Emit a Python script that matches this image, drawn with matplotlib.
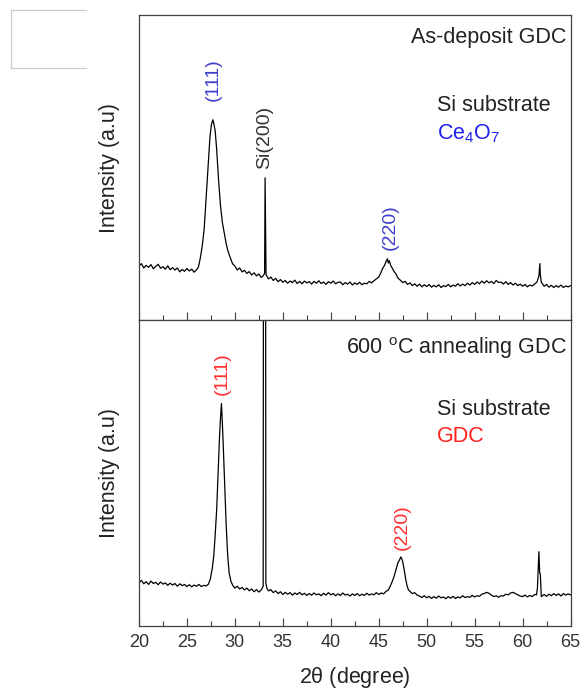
import numpy as np
import matplotlib
matplotlib.use("Agg")
import matplotlib.pyplot as plt
from matplotlib.lines import Line2D

plt.rcParams['font.family'] = ['Liberation Sans', 'DejaVu Sans']
plt.rcParams['mathtext.fontset'] = 'custom'
plt.rcParams['mathtext.rm'] = 'Liberation Sans'

# 2theta / intensity (arbitrary units)
tt_asdep = [20.0, 20.25, 20.5, 20.75, 21.0, 21.25, 21.5, 21.75, 22.0, 22.25, 22.5, 22.75,
            23.0, 23.25, 23.5, 23.75, 24.0, 24.25, 24.5, 24.75, 25.0, 25.25, 25.5, 25.75,
            26.0, 26.2, 26.4, 26.6, 26.8, 27.0, 27.2, 27.4, 27.55, 27.7, 27.8, 27.95,
            28.1, 28.3, 28.5, 28.7, 28.9, 29.1, 29.3, 29.5, 29.75, 30.0, 30.25, 30.5,
            30.75, 31.0, 31.25, 31.5, 31.75, 32.0, 32.25, 32.5, 32.75, 33.0, 33.1, 33.15,
            33.2, 33.25, 33.5, 33.75, 34.0, 34.25, 34.5, 34.75, 35.0, 35.25, 35.5, 35.75,
            36.0, 36.25, 36.5, 36.75, 37.0, 37.25, 37.5, 37.75, 38.0, 38.25, 38.5, 38.75,
            39.0, 39.25, 39.5, 39.75, 40.0, 40.25, 40.5, 40.75, 41.0, 41.25, 41.5, 41.75,
            42.0, 42.25, 42.5, 42.75, 43.0, 43.25, 43.5, 43.75, 44.0, 44.25, 44.5, 44.75,
            45.0, 45.2, 45.4, 45.6, 45.75, 45.9, 46.0, 46.1, 46.25, 46.4, 46.6, 46.8,
            47.0, 47.25, 47.5, 47.75, 48.0, 48.25, 48.5, 48.75, 49.0, 49.25, 49.5, 49.75,
            50.0, 50.25, 50.5, 50.75, 51.0, 51.25, 51.5, 51.75, 52.0, 52.25, 52.5, 52.75,
            53.0, 53.25, 53.5, 53.75, 54.0, 54.25, 54.5, 54.75, 55.0, 55.25, 55.5, 55.75,
            56.0, 56.25, 56.5, 56.75, 57.0, 57.25, 57.5, 57.75, 58.0, 58.25, 58.5, 58.75,
            59.0, 59.25, 59.5, 59.75, 60.0, 60.25, 60.5, 60.75, 61.0, 61.25, 61.5, 61.7,
            61.8, 61.85, 61.95, 62.25, 62.5, 62.75, 63.0, 63.25, 63.5, 63.75, 64.0, 64.25,
            64.5, 64.75, 65.0]
I_asdep = [17.8, 18.6, 17.2, 18.0, 17.4, 18.3, 16.9, 17.7, 18.4, 17.1, 17.6, 16.8,
           17.9, 16.6, 17.3, 16.5, 17.2, 15.9, 16.7, 16.1, 17.0, 16.2, 16.8, 15.8,
           16.6, 17.5, 20.5, 24.5, 30.0, 40.0, 50.5, 60.0, 64.0, 65.7, 64.5, 62.0,
           56.0, 46.0, 37.5, 32.0, 28.5, 25.0, 22.5, 20.8, 18.6, 17.8, 16.5, 17.2,
           15.9, 16.4, 15.4, 16.0, 14.9, 15.6, 14.6, 15.2, 14.1, 14.8, 15.5, 46.7,
           32.0, 15.0, 13.6, 14.2, 13.1, 13.8, 12.7, 13.4, 12.5, 13.1, 12.2, 12.9,
           12.4, 13.2, 12.1, 12.8, 12.0, 12.9, 12.3, 12.7, 11.9, 12.8, 12.2, 13.0,
           12.1, 12.6, 11.8, 12.7, 12.2, 12.9, 12.0, 12.5, 12.6, 11.7, 12.4, 11.9,
           12.6, 11.6, 12.3, 11.8, 12.5, 11.7, 12.2, 12.0, 12.8, 12.3, 13.0, 13.6,
           14.2, 15.5, 17.0, 18.0, 19.2, 20.2, 18.8, 19.6, 18.0, 17.2, 16.0, 15.2,
           13.9, 13.2, 12.4, 12.8, 11.8, 12.3, 11.4, 12.0, 11.2, 11.9, 11.0, 11.7,
           11.1, 11.8, 10.9, 11.5, 11.0, 11.7, 10.8, 11.4, 11.1, 11.8, 11.0, 11.6,
           11.2, 12.0, 11.3, 11.9, 11.4, 12.2, 11.6, 12.4, 11.8, 12.6, 12.0, 12.9,
           12.2, 13.0, 12.3, 12.8, 12.1, 13.1, 12.4, 12.6, 11.9, 12.7, 11.8, 12.4,
           11.6, 12.2, 11.4, 11.9, 11.2, 11.8, 11.0, 11.6, 11.3, 11.9, 12.6, 14.5,
           18.6, 15.0, 12.5, 11.2, 11.8, 10.9, 11.5, 10.8, 11.4, 10.9, 11.6, 10.8,
           11.3, 11.0, 11.4]

tt_anneal = [20.0, 20.25, 20.5, 20.75, 21.0, 21.25, 21.5, 21.75, 22.0, 22.25, 22.5, 22.75,
             23.0, 23.25, 23.5, 23.75, 24.0, 24.25, 24.5, 24.75, 25.0, 25.25, 25.5, 25.75,
             26.0, 26.25, 26.5, 26.75, 27.0, 27.25, 27.45, 27.65, 27.8, 27.95, 28.1, 28.25,
             28.4, 28.5, 28.6, 28.7, 28.8, 28.95, 29.1, 29.25, 29.4, 29.6, 29.8, 30.0,
             30.25, 30.5, 30.75, 31.0, 31.25, 31.5, 31.75, 32.0, 32.25, 32.5, 32.75, 32.95,
             32.98, 33.2, 33.23, 33.35, 33.5, 33.75, 34.0, 34.25, 34.5, 34.75, 35.0, 35.25,
             35.5, 35.75, 36.0, 36.25, 36.5, 36.75, 37.0, 37.25, 37.5, 37.75, 38.0, 38.25,
             38.5, 38.75, 39.0, 39.25, 39.5, 39.75, 40.0, 40.25, 40.5, 40.75, 41.0, 41.25,
             41.5, 41.75, 42.0, 42.25, 42.5, 42.75, 43.0, 43.25, 43.5, 43.75, 44.0, 44.25,
             44.5, 44.75, 45.0, 45.25, 45.5, 45.75, 46.0, 46.2, 46.4, 46.6, 46.8, 47.0,
             47.15, 47.3, 47.4, 47.5, 47.65, 47.8, 47.95, 48.1, 48.3, 48.5, 48.75, 49.0,
             49.25, 49.5, 49.75, 50.0, 50.25, 50.5, 50.75, 51.0, 51.25, 51.5, 51.75, 52.0,
             52.25, 52.5, 52.75, 53.0, 53.25, 53.5, 53.75, 54.0, 54.25, 54.5, 54.75, 55.0,
             55.25, 55.5, 55.75, 56.0, 56.25, 56.5, 56.75, 57.0, 57.25, 57.5, 57.75, 58.0,
             58.25, 58.5, 58.75, 59.0, 59.25, 59.5, 59.75, 60.0, 60.25, 60.5, 60.75, 61.0,
             61.25, 61.45, 61.55, 61.7, 61.78, 61.85, 61.95, 62.25, 62.5, 62.75, 63.0, 63.25,
             63.5, 63.75, 64.0, 64.25, 64.5, 64.75, 65.0]
I_anneal = [14.2, 14.9, 13.8, 14.5, 13.6, 14.7, 13.9, 14.3, 13.5, 14.4, 13.7, 14.1,
            13.3, 14.0, 13.4, 13.9, 13.0, 13.8, 13.2, 13.6, 12.9, 13.5, 12.8, 13.4,
            13.0, 13.6, 12.9, 13.3, 13.1, 13.7, 15.5, 19.0, 23.0, 30.0, 38.0, 50.0,
            62.0, 68.0, 72.8, 66.0, 58.0, 45.0, 32.5, 23.0, 17.4, 14.5, 13.2, 12.4,
            13.0, 12.1, 12.6, 11.8, 12.4, 11.5, 12.1, 11.2, 11.9, 11.1, 11.8, 13.0,
            140.0, 140.0, 14.0, 12.2, 11.5, 11.9, 10.9, 11.5, 10.6, 11.2, 10.3, 11.0,
            10.4, 10.9, 10.1, 10.8, 10.3, 11.0, 10.2, 10.7, 10.0, 10.6, 10.1, 10.8,
            10.2, 10.5, 9.9, 10.7, 10.1, 10.9, 10.2, 10.6, 9.9, 10.5, 10.0, 10.8,
            10.1, 10.4, 9.8, 10.5, 10.0, 10.6, 9.9, 10.4, 10.0, 10.7, 10.1, 10.5,
            10.2, 10.9, 10.3, 10.8, 10.5, 11.3, 11.8, 13.0, 14.5, 16.2, 18.5, 20.7,
            21.5, 22.6, 22.0, 21.0, 18.5, 15.5, 13.2, 11.8, 11.2, 10.6, 10.9, 10.1,
            9.8, 9.3, 9.9, 9.2, 9.7, 9.0, 9.6, 9.1, 9.8, 9.2, 9.5, 8.9,
            9.6, 9.1, 9.7, 9.0, 9.5, 9.2, 9.9, 9.3, 9.6, 9.4, 10.0, 9.5,
            9.9, 9.7, 10.4, 10.6, 11.0, 10.7, 10.1, 9.6, 9.9, 9.4, 9.9, 9.8,
            10.4, 10.2, 10.8, 11.0, 10.6, 10.2, 9.8, 9.6, 10.1, 9.5, 10.0, 9.6,
            10.3, 10.2, 12.5, 24.3, 17.4, 17.0, 9.6, 10.3, 9.7, 10.4, 9.9, 10.6,
            10.0, 10.5, 9.8, 10.6, 10.1, 10.5, 10.2]

# peak labels: (text, 2theta, height)
peaks_asdep = [("(111)", 27.7, 79.0, '#4040cc'), ("Si(200)", 33.15, 60.0, '#333333'),
               ("(220)", 46.2, 30.5, '#4040cc')]
peaks_anneal = [("(111)", 28.65, 82.5, '#ff3030'), ("(220)", 47.45, 32.5, '#ff3030')]

spine_col = '#404040'

fig = plt.figure(figsize=(5.81, 6.9), dpi=100)
gs = fig.add_gridspec(2, 1, left=0.2392, right=0.982, top=0.9783, bottom=0.0928, hspace=0)
ax1 = fig.add_subplot(gs[0])
ax2 = fig.add_subplot(gs[1], sharex=ax1)

ax1.plot(tt_asdep, I_asdep, color='black', lw=0.9)
ax2.plot(tt_anneal, I_anneal, color='black', lw=0.9)

for ax in (ax1, ax2):
    ax.set_xlim(20, 65)
    ax.set_ylim(0, 100)
    ax.set_yticks([])
    ax.set_xticks(np.arange(20, 66, 5))
    ax.set_xticks(np.arange(22.5, 65, 5), minor=True)
    ax.tick_params(axis='x', which='major', direction='in', length=6, width=0.8,
                   color=spine_col, labelsize=13, labelcolor='#333333', pad=6)
    ax.tick_params(axis='x', which='minor', direction='in', length=3.5, width=0.8,
                   color=spine_col)
    for sp in ax.spines.values():
        sp.set_color(spine_col)
        sp.set_linewidth(0.9)
    ax.set_ylabel('Intensity (a.u)', fontsize=15.5, color='#222222')
    ax.yaxis.set_label_coords(-0.044, 0.5)

ax1.tick_params(axis='x', labelbottom=False)
ax2.set_xlabel(r'2$\mathregular{\theta}$ (degree)', fontsize=15.5, color='#222222', labelpad=10)

for txt, x, y, c in peaks_asdep:
    ax1.text(x, y, txt, rotation=90, ha='center', va='center', fontsize=14, color=c)
for txt, x, y, c in peaks_anneal:
    ax2.text(x, y, txt, rotation=90, ha='center', va='center', fontsize=14, color=c)

ax1.text(0.99, 0.925, 'As-deposit GDC', transform=ax1.transAxes, ha='right', va='center',
         fontsize=15.5, color='#222222')
ax1.text(0.69, 0.703, 'Si substrate', transform=ax1.transAxes, ha='left', va='center',
         fontsize=15.5, color='#222222')
ax1.text(0.69, 0.61, r'Ce$\mathregular{_4}$O$\mathregular{_7}$', transform=ax1.transAxes,
         ha='left', va='center', fontsize=15.5, color='#2020ee')

ax2.text(0.99, 0.908, r'600 $\mathregular{^{o}}$C annealing GDC', transform=ax2.transAxes,
         ha='right', va='center', fontsize=15.5, color='#222222')
ax2.text(0.69, 0.708, 'Si substrate', transform=ax2.transAxes, ha='left', va='center',
         fontsize=15.5, color='#222222')
ax2.text(0.69, 0.62, 'GDC', transform=ax2.transAxes, ha='left', va='center',
         fontsize=15.5, color='#ff2020')

# empty box in the top-left corner
bx0, bx1, by0, by1 = 0.0189, 0.148, 0.9014, 0.9855
for xs, ys in [([bx0, bx0], [by0, by1]), ([bx0, bx1], [by1, by1]), ([bx0, bx1], [by0, by0])]:
    fig.add_artist(Line2D(xs, ys, transform=fig.transFigure, color='#cccccc', lw=0.9))

fig.savefig('out.png', dpi=100)
